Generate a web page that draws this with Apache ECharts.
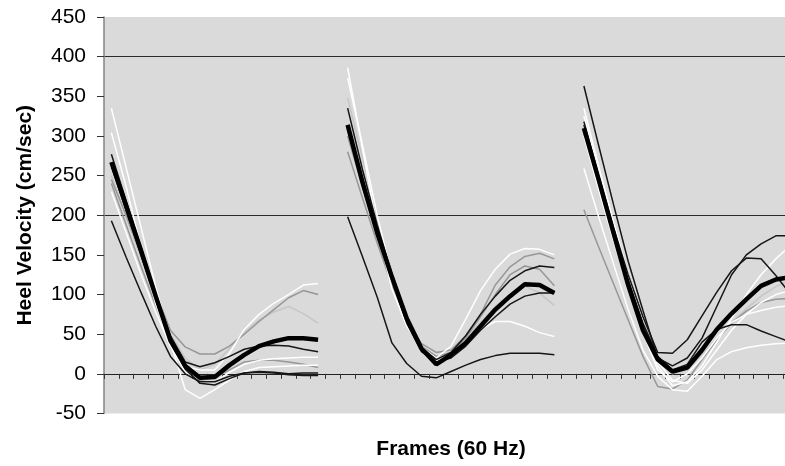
<!DOCTYPE html>
<html>
<head>
<meta charset="utf-8">
<title>Heel Velocity</title>
<script src="https://cdn.jsdelivr.net/npm/echarts@6/dist/echarts.min.js"></script>
<style>
html,body{margin:0;padding:0;background:#fff;}
#main{width:785px;height:466px;}
</style>
</head>
<body>
<div id="main"></div>
<script>
// frame numbers on the x axis (labels are not shown)
var frames = [];
for (var f = 1; f <= 47; f++) { frames.push(String(f)); }

// y axis range
var yMin = -50, yMax = 450, yStep = 50;

// first frame of each of the three strides
var strideStart = [0, 16, 32];

// stride 1
var stride1 = [
    [335, 260, 185, 110, 40, -20, -31, -20, -8, 3, 8, 9, 10, 11, 11],
    [304, 236, 160, 88, 35, 9, 5, 5, 26, 56, 75, 89, 100, 112, 114],
    [277, 218, 160, 102, 48, 15, 9, 14, 22, 31, 35, 36, 35, 31, 28],
    [262, 206, 150, 94, 40, 6, -12, -14, -6, 1, 3, 2, 0, 1, 1],
    [193, 147, 103, 60, 22, 0, -10, -10, -3, 1, 2, 1, -1, -2, -2],
    [245, 200, 150, 102, 55, 34, 25, 25, 35, 50, 66, 81, 96, 105, 100],
    [250, 198, 146, 96, 50, 20, 5, 12, 32, 52, 68, 78, 85, 76, 64],
    [240, 188, 136, 86, 40, 8, -8, -5, 5, 15, 17, 17, 15, 12, 8],
    [230, 178, 126, 78, 35, 3, -12, -10, 2, 12, 17, 19, 20, 21, 21],
    [267, 212, 156, 98, 42, 10, -5, -4, 11, 24, 35, 41, 45, 45, 43]
];
var stride1Kind = ['white', 'white', 'black', 'black', 'black', 'gray', 'light', 'gray', 'white', 'mean'];

// stride 2
var stride2 = [
    [386, 285, 183, 107, 60, 33, 20, 35, 69, 105, 132, 151, 158, 157, 150],
    [373, 289, 200, 124, 69, 35, 16, 24, 39, 56, 66, 66, 60, 52, 47],
    [348, 272, 196, 128, 70, 32, 20, 28, 45, 65, 85, 100, 111, 102, 86],
    [335, 258, 188, 126, 72, 33, 18, 27, 48, 75, 98, 118, 130, 136, 134],
    [280, 222, 165, 112, 68, 38, 27, 30, 48, 75, 112, 135, 148, 152, 145],
    [300, 236, 175, 118, 70, 35, 22, 27, 45, 72, 100, 125, 136, 132, 111],
    [198, 148, 97, 39, 13, -3, -5, 3, 11, 18, 23, 26, 26, 26, 24],
    [310, 240, 176, 118, 64, 28, 15, 20, 35, 55, 72, 88, 98, 102, 102],
    [314, 242, 178, 122, 70, 32, 12, 24, 39, 60, 81, 98, 113, 112, 102]
];
var stride2Kind = ['white', 'white', 'light', 'black', 'gray', 'gray', 'black', 'black', 'mean'];

// stride 3
var stride3 = [
    [363, 288, 214, 142, 80, 20, 10, 20, 45, 85, 125, 150, 164, 174, 174],
    [318, 250, 185, 125, 72, 27, 26, 43, 73, 103, 130, 146, 145, 124, 100],
    [314, 245, 180, 118, 64, 22, 5, 12, 40, 56, 62, 62, 54, 47, 40],
    [335, 262, 192, 125, 65, 10, -15, -10, 10, 40, 70, 100, 125, 145, 162],
    [259, 198, 139, 81, 30, -3, -20, -22, -3, 18, 28, 33, 36, 38, 39],
    [207, 160, 114, 68, 22, -16, -19, -8, 18, 43, 64, 79, 90, 94, 95],
    [325, 255, 188, 124, 66, 15, -8, -12, 5, 30, 55, 75, 90, 100, 105],
    [300, 232, 168, 108, 52, 5, -10, 0, 20, 45, 65, 75, 80, 84, 86],
    [320, 250, 186, 126, 70, 22, 0, 5, 25, 45, 65, 82, 98, 110, 118],
    [310, 245, 178, 112, 55, 18, 3, 8, 30, 56, 76, 94, 111, 119, 122]
];
var stride3Kind = ['black', 'black', 'black', 'white', 'white', 'gray', 'white', 'white', 'light', 'mean'];

var lineLook = {
    light: {color: '#c6c6c6', width: 1.5, z: 2},
    gray:  {color: '#979797', width: 1.5, z: 3},
    white: {color: '#ffffff', width: 1.5, z: 4},
    black: {color: '#161616', width: 1.5, z: 5},
    mean:  {color: '#000000', width: 4.5, z: 6}
};

function padLine(values, start) {
    var out = [];
    for (var i = 0; i < frames.length; i++) { out.push(null); }
    for (var j = 0; j < values.length; j++) { out[start + j] = values[j]; }
    return out;
}

function buildSeries() {
    var strides = [stride1, stride2, stride3];
    var kinds = [stride1Kind, stride2Kind, stride3Kind];
    var series = [];
    for (var s = 0; s < strides.length; s++) {
        for (var k = 0; k < strides[s].length; k++) {
            var look = lineLook[kinds[s][k]];
            series.push({
                type: 'line',
                data: padLine(strides[s][k], strideStart[s]),
                symbol: 'none',
                connectNulls: false,
                silent: true,
                z: look.z,
                lineStyle: {color: look.color, width: look.width}
            });
        }
    }
    return series;
}

// only 0, 200 and 400 get a line across the plot
var splitColors = ['rgba(0,0,0,0)', '#2b2b2b', 'rgba(0,0,0,0)', 'rgba(0,0,0,0)', 'rgba(0,0,0,0)',
    '#2b2b2b', 'rgba(0,0,0,0)', 'rgba(0,0,0,0)', 'rgba(0,0,0,0)', '#2b2b2b', 'rgba(0,0,0,0)'];

var font = 'Liberation Sans, Arial, sans-serif';

var chart = echarts.init(document.getElementById('main'), null, {renderer: 'canvas'});
var option = {
    animation: false,
    backgroundColor: '#ffffff',
    grid: {
        left: 104,
        top: 17,
        width: 694,
        height: 396.5,
        show: true,
        backgroundColor: '#dadada',
        borderWidth: 0,
        containLabel: false,
        outerBoundsMode: 'none'
    },
    xAxis: {
        type: 'category',
        data: frames,
        boundaryGap: true,
        axisLine: {onZero: true, lineStyle: {color: '#222222', width: 1}},
        axisTick: {show: true, interval: 0, length: 5, lineStyle: {color: '#333333'}},
        axisLabel: {show: false, interval: 0},
        splitLine: {show: false},
        name: 'Frames (60 Hz)',
        nameLocation: 'middle',
        nameGap: 25,
        nameTextStyle: {fontFamily: font, fontSize: 21, fontWeight: 'bold', color: '#000'}
    },
    yAxis: {
        type: 'value',
        min: yMin,
        max: yMax,
        interval: yStep,
        axisLine: {show: true, lineStyle: {color: '#858585', width: 1.5}},
        axisTick: {show: true, length: 7, lineStyle: {color: '#333333'}},
        axisLabel: {margin: 18, fontFamily: font, fontSize: 21, color: '#000'},
        splitLine: {show: true, lineStyle: {color: splitColors, width: 1}},
        name: 'Heel Velocity (cm/sec)',
        nameLocation: 'middle',
        nameGap: 68,
        nameTextStyle: {fontFamily: font, fontSize: 21, fontWeight: 'bold', color: '#000'}
    },
    series: buildSeries()
};
chart.setOption(option);
</script>
</body>
</html>
